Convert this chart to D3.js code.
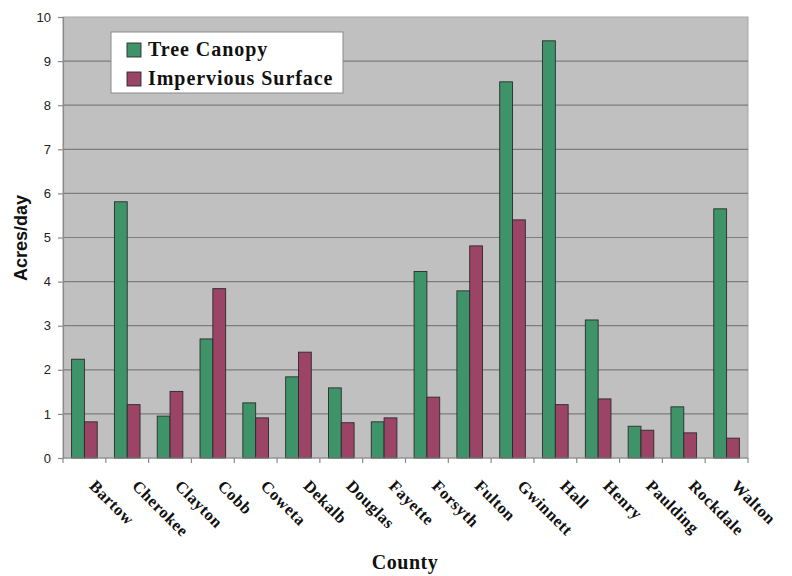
<!DOCTYPE html>
<html>
<head>
<meta charset="utf-8">
<script src="https://cdn.jsdelivr.net/npm/d3@7/dist/d3.min.js"></script>
<style>
  body { margin: 0; background: #fff; }
  svg { display: block; }
</style>
</head>
<body>
<svg id="chart" width="792" height="576"></svg>
<script>
// County land-change rates (acres/day)
const counties = ["Bartow", "Cherokee", "Clayton", "Cobb", "Coweta", "Dekalb", "Douglas", "Fayette",
  "Forsyth", "Fulton", "Gwinnett", "Hall", "Henry", "Paulding", "Rockdale", "Walton"];
const treeCanopy = [2.24, 5.81, 0.95, 2.70, 1.25, 1.84, 1.59, 0.82,
  4.23, 3.79, 8.53, 9.46, 3.13, 0.72, 1.16, 5.65];
const imperviousSurface = [0.82, 1.21, 1.51, 3.84, 0.91, 2.40, 0.80, 0.91,
  1.38, 4.81, 5.40, 1.21, 1.34, 0.63, 0.57, 0.45];
const seriesNames = ["Tree Canopy", "Impervious Surface"];
const yTicks = [0, 1, 2, 3, 4, 5, 6, 7, 8, 9, 10];

const colors = ["#3e9468", "#9b4466"];
const svg = d3.select("#chart");
const plot = { left: 63, right: 748, top: 17, bottom: 458 };

const x = d3.scaleBand().domain(counties).range([plot.left, plot.right]).paddingInner(0).paddingOuter(0);
const xInner = d3.scaleBand().domain(seriesNames).range([0, x.bandwidth()]).paddingInner(0).paddingOuter(0.67);
const y = d3.scaleLinear().domain([0, 10]).range([plot.bottom, plot.top]);

// plot background
svg.append("rect")
  .attr("x", plot.left).attr("y", plot.top)
  .attr("width", plot.right - plot.left).attr("height", plot.bottom - plot.top)
  .attr("fill", "#c0c0c0").attr("stroke", "#a8a8a8").attr("stroke-width", 1);

// gridlines
svg.append("g").selectAll("line").data(yTicks.filter(t => t > 0 && t < 10)).join("line")
  .attr("x1", plot.left).attr("x2", plot.right)
  .attr("y1", d => y(d)).attr("y2", d => y(d))
  .attr("stroke", "#7d7d7d").attr("stroke-width", 1.2);

// bars
const data = counties.map((c, i) => ({ county: c, values: [treeCanopy[i], imperviousSurface[i]] }));
const groups = svg.append("g").selectAll("g").data(data).join("g")
  .attr("transform", d => `translate(${x(d.county)},0)`);
groups.selectAll("rect").data(d => d.values.map((v, k) => ({ v, k }))).join("rect")
  .attr("x", d => xInner(seriesNames[d.k]))
  .attr("width", xInner.bandwidth())
  .attr("y", d => y(d.v))
  .attr("height", d => y(0) - y(d.v))
  .attr("fill", d => colors[d.k])
  .attr("stroke", "#2b2b2b").attr("stroke-width", 0.9);

// y axis
const yAxis = svg.append("g").attr("transform", `translate(${plot.left},0)`)
  .call(d3.axisLeft(y).tickValues(yTicks).tickSize(5).tickPadding(7).tickFormat(d3.format("d")));
yAxis.select(".domain").attr("stroke", "#8a8a8a").attr("stroke-width", 1.2);
yAxis.selectAll(".tick line").attr("stroke", "#8a8a8a").attr("stroke-width", 1.2);
yAxis.selectAll(".tick text")
  .attr("font-family", "Liberation Sans, Arial, sans-serif").attr("font-size", 13).attr("fill", "#222");

// x axis: tick marks at category boundaries
const xAxisG = svg.append("g");
xAxisG.append("line").attr("x1", plot.left).attr("x2", plot.right)
  .attr("y1", plot.bottom).attr("y2", plot.bottom)
  .attr("stroke", "#8a8a8a").attr("stroke-width", 1.2);
const boundaries = counties.map(c => x(c)).concat([plot.right]);
xAxisG.selectAll("line.tk").data(boundaries).join("line").attr("class", "tk")
  .attr("x1", d => d).attr("x2", d => d)
  .attr("y1", plot.bottom).attr("y2", plot.bottom + 5)
  .attr("stroke", "#8a8a8a").attr("stroke-width", 1.2);

// rotated county labels
svg.append("g").selectAll("text").data(counties).join("text")
  .attr("transform", d => `translate(${x(d) + x.bandwidth() / 2 + 4},${plot.bottom + 29}) rotate(45)`)
  .attr("font-family", "Liberation Serif, Times New Roman, serif")
  .attr("font-weight", "bold").attr("font-size", 16.5).attr("letter-spacing", 0.5).attr("fill", "#111")
  .text(d => d);

// axis titles
svg.append("text")
  .attr("x", 405).attr("y", 569).attr("text-anchor", "middle")
  .attr("font-family", "Liberation Serif, Times New Roman, serif")
  .attr("font-weight", "bold").attr("font-size", 20).attr("letter-spacing", 0.5).attr("fill", "#111")
  .text("County");
svg.append("text")
  .attr("transform", "translate(27,238) rotate(-90)").attr("text-anchor", "middle")
  .attr("font-family", "Liberation Sans, Arial, sans-serif")
  .attr("font-weight", "bold").attr("font-size", 18).attr("fill", "#111")
  .text("Acres/day");

// legend
const legend = svg.append("g").attr("transform", "translate(111,32)");
legend.append("rect").attr("width", 232).attr("height", 61)
  .attr("fill", "#fff").attr("stroke", "#8a8a8a").attr("stroke-width", 1);
seriesNames.forEach((name, i) => {
  const row = legend.append("g").attr("transform", `translate(16,${11 + i * 29})`);
  row.append("rect").attr("width", 14).attr("height", 14)
    .attr("fill", colors[i]).attr("stroke", "#2b2b2b").attr("stroke-width", 0.9);
  row.append("text").attr("x", 21).attr("y", 13)
    .attr("font-family", "Liberation Serif, Times New Roman, serif")
    .attr("font-weight", "bold").attr("font-size", 20).attr("letter-spacing", 0.95).attr("fill", "#111")
    .text(name);
});
</script>
</body>
</html>
